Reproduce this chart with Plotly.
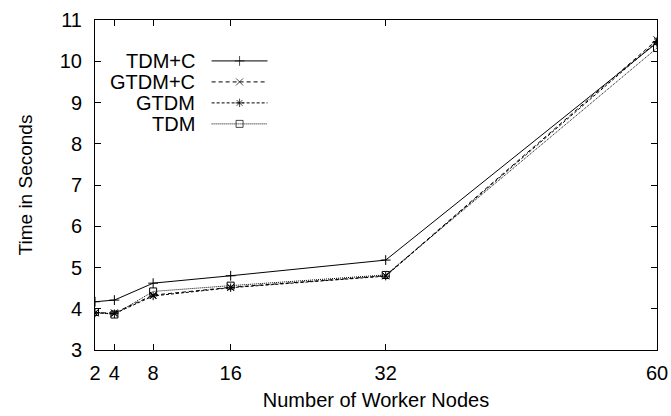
import plotly.graph_objects as go

# Benchmark results: execution time vs. cluster size
nodes = [2, 4, 8, 16, 32, 60]
series_names = ["TDM+C", "GTDM+C", "GTDM", "TDM"]
tdm_c = [4.17, 4.21, 4.62, 4.80, 5.18, 10.45]
gtdm_c = [3.90, 3.90, 4.33, 4.52, 4.80, 10.52]
gtdm = [3.90, 3.88, 4.31, 4.51, 4.79, 10.48]
tdm = [3.92, 3.86, 4.42, 4.56, 4.82, 10.32]
x_ticks = [2, 4, 8, 16, 32, 60]
y_ticks = [3, 4, 5, 6, 7, 8, 9, 10, 11]

FONT = "Liberation Sans, Arial, Helvetica, sans-serif"
values = [tdm_c, gtdm_c, gtdm, tdm]
dashes = ["solid", "4px,3px", "3px,2px", "1px,1px"]
symbols = ["cross-thin-open", "x-thin-open", "asterisk-open", "square-open"]

fig = go.Figure()
for name, ys, dash, sym in zip(series_names, values, dashes, symbols):
    fig.add_trace(go.Scatter(
        x=nodes, y=ys, mode="lines+markers", name=name,
        line=dict(color="black", width=1, dash=dash),
        marker=dict(symbol=sym, size=7, color="black",
                    line=dict(color="black", width=1)),
        showlegend=False,
    ))

# Key drawn on an overlay axis spanning the plot area (0..1 in both directions)
key_x0, key_x1, key_text_x = 0.2075, 0.307, 0.182
key_top, key_step = 0.876, 0.0636
for i, (name, dash, sym) in enumerate(zip(series_names, dashes, symbols)):
    ky = key_top - i * key_step
    fig.add_trace(go.Scatter(
        x=[key_x0, (key_x0 + key_x1) / 2, key_x1], y=[ky, ky, ky],
        xaxis="x2", yaxis="y2", mode="lines+markers",
        line=dict(color="black", width=1, dash=dash),
        marker=dict(symbol=sym, size=[0, 7, 0], color="black",
                    line=dict(color="black", width=1)),
        showlegend=False, hoverinfo="skip",
    ))
    fig.add_annotation(
        x=key_text_x, y=ky, xref="x2", yref="y2", text=name,
        showarrow=False, xanchor="right", yanchor="middle",
        font=dict(family=FONT, size=20, color="black"),
        height=20,
    )

axis_common = dict(
    showline=True, linecolor="black", linewidth=1, mirror="ticks",
    ticks="inside", ticklen=6, tickcolor="black", tickwidth=1,
    showgrid=False, zeroline=False, automargin=False,
    tickfont=dict(family=FONT, size=20, color="black"),
)

fig.update_layout(
    width=671, height=416,
    margin=dict(l=95, r=14, t=20, b=66),
    paper_bgcolor="white", plot_bgcolor="white",
    xaxis=dict(range=[2, 60], tickvals=x_ticks, ticktext=[str(v) for v in x_ticks],
               ticklabelstandoff=5,
               title=dict(text="Number of Worker Nodes", standoff=9,
                          font=dict(family=FONT, size=20, color="black")),
               **axis_common),
    yaxis=dict(range=[3, 11], tickvals=y_ticks, ticktext=[str(v) for v in y_ticks],
               ticklabelstandoff=8,
               title=dict(text="Time in Seconds", standoff=22,
                          font=dict(family=FONT, size=19, color="black")),
               **axis_common),
    xaxis2=dict(range=[0, 1], overlaying="x", visible=False, fixedrange=True),
    yaxis2=dict(range=[0, 1], overlaying="y", visible=False, fixedrange=True),
    showlegend=False,
)

fig.write_html("out.html")
